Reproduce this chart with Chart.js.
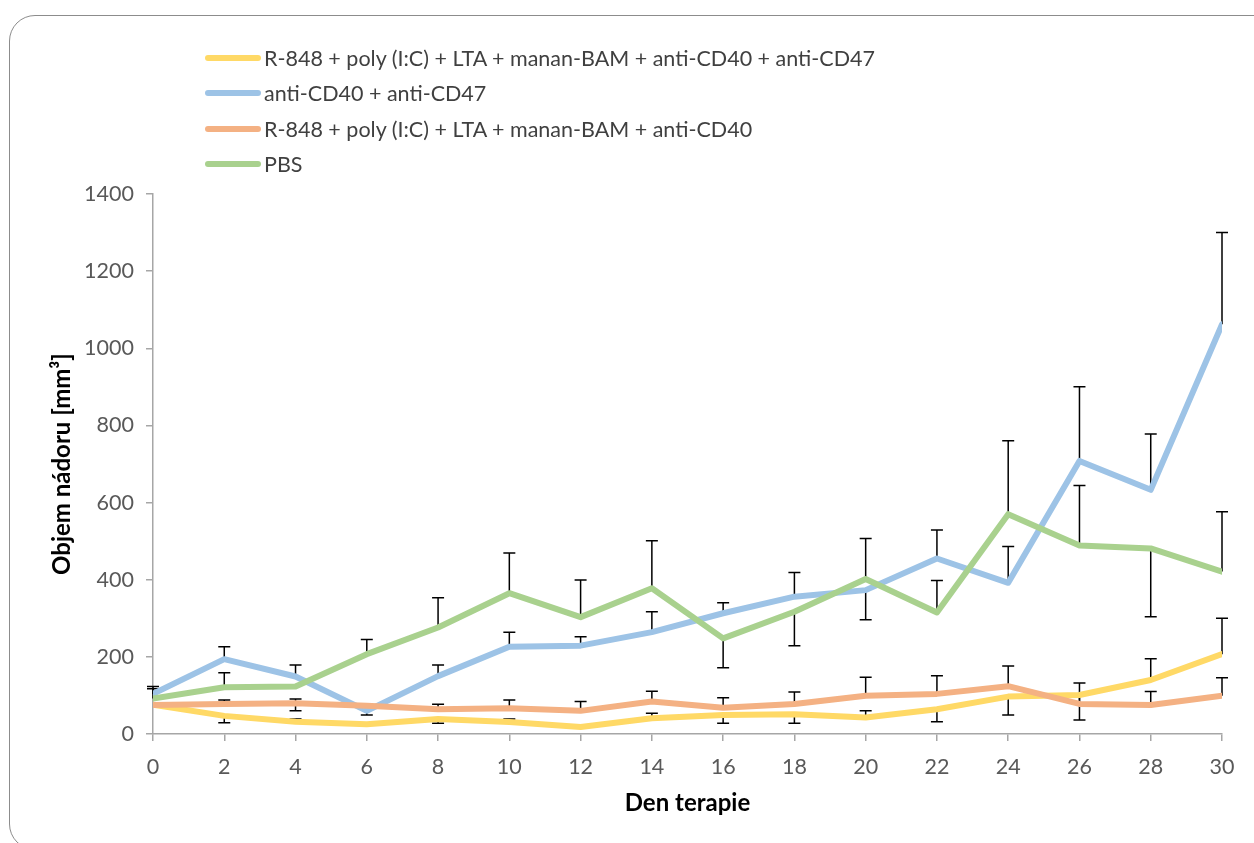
<!DOCTYPE html>
<html>
<head>
<meta charset="utf-8">
<script src="https://cdn.jsdelivr.net/npm/chart.js@4.4.1/dist/chart.umd.min.js"></script>
<style>
  html, body { margin: 0; padding: 0; background: #fff; overflow: hidden; }
  #wrap { position: relative; width: 1254px; height: 843px; }
  #frame {
    position: absolute; left: 9px; top: 15px; width: 1300px; height: 835px;
    border: 1.5px solid #8c8c8c; border-radius: 26px; box-sizing: border-box;
  }
  #chart { position: absolute; left: 0; top: 0; }
  #legend { position: absolute; left: 205px; top: 40px; font-family: Lato, "Noto Sans", sans-serif; font-size: 21.5px; color: #404040; }
  .item { position: absolute; left: 0; height: 36px; display: flex; align-items: center; white-space: nowrap; }
  .swatch { width: 56px; height: 6px; border-radius: 3px; margin-right: 3px; }
</style>
</head>
<body>
<div id="wrap">
  <div id="frame"></div>
  <canvas id="chart" width="1254" height="843"></canvas>
  <div id="legend"></div>
</div>
<script>
// Tumour volume over the course of therapy (mean with one-sided error bars)
const days = [0, 2, 4, 6, 8, 10, 12, 14, 16, 18, 20, 22, 24, 26, 28, 30];

const seriesNames = [
  'R-848 + poly (I:C) + LTA + manan-BAM + anti-CD40 + anti-CD47',
  'anti-CD40 + anti-CD47',
  'R-848 + poly (I:C) + LTA + manan-BAM + anti-CD40',
  'PBS'
];
const seriesColors = ['#FFD966', '#9DC3E6', '#F4B183', '#A9D18E'];

const comboCD47 = [76, 47, 32, 25, 39, 31, 18, 41, 49, 51, 43, 64, 97, 101, 140, 207];
const cd40cd47  = [104, 194, 149, 60, 150, 226, 229, 264, 313, 356, 373, 455, 392, 708, 633, 1062];
const comboCD40 = [75, 78, 80, 73, 64, 67, 60, 84, 68, 78, 99, 104, 124, 78, 75, 99];
const pbs       = [92, 121, 123, 207, 276, 365, 303, 378, 248, 317, 402, 315, 570, 489, 481, 421];

// error bar ends (null where no bar is drawn)
const comboCD47Hi = [null, null, 39, null, null, 39, null, 54, null, null, 60, null, null, null, 195, 300];
const comboCD47Lo = [null, 29, null, null, 28, null, null, null, 28, 28, null, 32, 49, 36, null, null];
const cd40cd47Hi  = [123, 226, 179, null, 179, 264, 252, 317, 340, 419, null, 529, 486, 900, 778, 1300];
const cd40cd47Lo  = [null, null, null, 49, null, null, null, null, null, null, 296, null, null, null, null, null];
const comboCD40Hi = [null, 88, 91, null, 77, 88, 84, 111, 94, 109, 147, 151, 176, 132, 110, 146];
const comboCD40Lo = [null, null, 60, null, null, null, null, null, null, null, null, null, null, null, null, null];
const pbsHi       = [117, 159, null, 245, 353, 469, 399, 501, null, null, 507, 398, 760, 644, null, 576];
const pbsLo       = [null, null, null, null, null, null, null, null, 172, 229, null, null, null, null, 304, null];

const xTicks = [0, 2, 4, 6, 8, 10, 12, 14, 16, 18, 20, 22, 24, 26, 28, 30];
const yTicks = [0, 200, 400, 600, 800, 1000, 1200, 1400];

const values = [comboCD47, cd40cd47, comboCD40, pbs];
const highs = [comboCD47Hi, cd40cd47Hi, comboCD40Hi, pbsHi];
const lows = [comboCD47Lo, cd40cd47Lo, comboCD40Lo, pbsLo];

const datasets = values.map((vals, i) => ({
  label: seriesNames[i],
  data: days.map((d, k) => ({ x: d, y: vals[k] })),
  borderColor: seriesColors[i],
  backgroundColor: seriesColors[i],
  borderWidth: 6,
  pointRadius: 0,
  tension: 0,
  borderJoinStyle: 'round',
  borderCapStyle: 'round',
  order: values.length - i,
  hi: highs[i],
  lo: lows[i]
}));

// HTML legend, one entry per row
const legend = document.getElementById('legend');
seriesNames.forEach((name, i) => {
  const row = document.createElement('div');
  row.className = 'item';
  row.style.top = (i * 35.3) + 'px';
  const sw = document.createElement('span');
  sw.className = 'swatch';
  sw.style.background = seriesColors[i];
  const tx = document.createElement('span');
  tx.textContent = name;
  row.appendChild(sw);
  row.appendChild(tx);
  legend.appendChild(row);
});

// draws the error bars underneath the lines
const errorBars = {
  id: 'errorBars',
  beforeDatasetsDraw(chart) {
    const { ctx, scales: { x, y } } = chart;
    ctx.save();
    ctx.strokeStyle = '#000';
    ctx.lineWidth = 1.5;
    const cap = 6;
    chart.data.datasets.forEach(ds => {
      days.forEach((d, k) => {
        const px = x.getPixelForValue(d);
        const py = y.getPixelForValue(ds.data[k].y);
        [ds.hi[k], ds.lo[k]].forEach(end => {
          if (end === null || end === undefined) return;
          const pe = y.getPixelForValue(end);
          ctx.beginPath();
          ctx.moveTo(px, py);
          ctx.lineTo(px, pe);
          ctx.moveTo(px - cap, pe);
          ctx.lineTo(px + cap, pe);
          ctx.stroke();
        });
      });
    });
    ctx.restore();
  }
};

const axisColor = '#A6A6A6';
const tickFont = { family: 'Lato, "Noto Sans", sans-serif', size: 21.5 };
const titleFont = { family: 'Lato, "Noto Sans", sans-serif', size: 24, weight: 'bold' };

new Chart(document.getElementById('chart'), {
  type: 'line',
  data: { datasets },
  plugins: [errorBars],
  options: {
    responsive: false,
    animation: false,
    events: [],
    layout: { padding: { top: 194, right: 32, left: 0, bottom: 0 } },
    plugins: { legend: { display: false }, tooltip: { enabled: false } },
    scales: {
      x: {
        type: 'linear',
        min: 0, max: 30,
        afterBuildTicks: s => { s.ticks = xTicks.map(v => ({ value: v })); },
        afterFit: s => { s.height = 109; },
        ticks: { color: '#595959', font: tickFont, padding: 13, maxRotation: 0, callback: v => String(v) },
        grid: { drawOnChartArea: false, drawTicks: true, tickLength: 7, color: axisColor, lineWidth: 1.5 },
        border: { color: axisColor, width: 1.5 },
        title: { display: true, text: 'Den terapie', color: '#000', font: titleFont, padding: { top: 0, bottom: 25 } }
      },
      y: {
        type: 'linear',
        min: 0, max: 1400,
        afterBuildTicks: s => { s.ticks = yTicks.map(v => ({ value: v })); },
        afterFit: s => { s.width = 153; },
        ticks: { color: '#595959', font: tickFont, padding: 12, callback: v => String(v) },
        grid: { drawOnChartArea: false, drawTicks: true, tickLength: 7, color: axisColor, lineWidth: 1.5 },
        border: { color: axisColor, width: 1.5 },
        title: { display: true, text: 'Objem nádoru [mm³]', color: '#000', font: titleFont, padding: { top: 48, bottom: 0 } }
      }
    }
  }
});
</script>
</body>
</html>
